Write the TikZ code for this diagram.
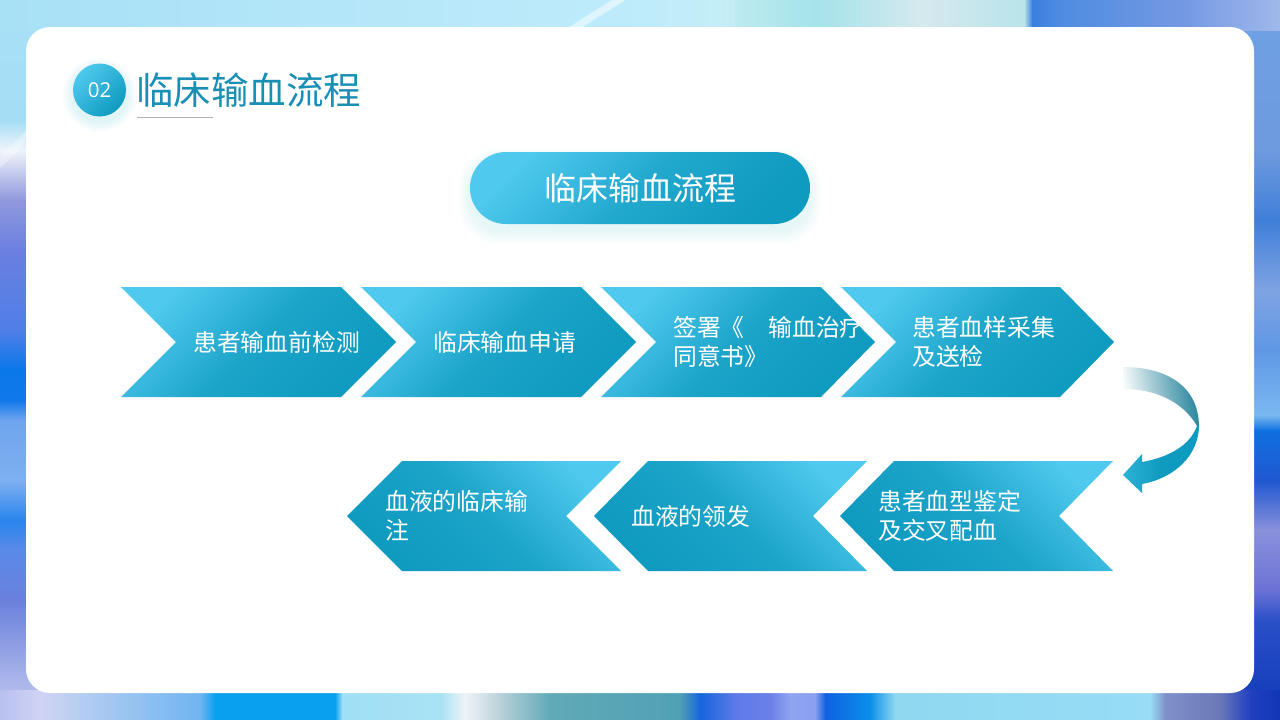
\documentclass[tikz,border=0pt]{standalone}
\usepackage{fontspec}
\setmainfont{Noto Sans CJK SC}
\newfontfamily\numfont{Open Sans}
\usepackage{tikz}

\definecolor{lightblue}{HTML}{4FC9EE}
\definecolor{darkblue}{HTML}{0F9ABF}
\definecolor{titleblue}{HTML}{1A8FB5}

\tikzset{
  arrowright/.style={top color=lightblue,bottom color=darkblue,middle color=darkblue!80!lightblue,shading angle=45},
  arrowleft/.style={top color=lightblue,bottom color=darkblue,middle color=darkblue!80!lightblue,shading angle=-45},
  arrowtext/.style={white,font=\fontsize{23.8pt}{29pt}\selectfont,align=left,anchor=west,inner sep=0pt},
}

\begin{document}
\begin{tikzpicture}[x=1pt,y=-1pt]
\useasboundingbox (0,0) rectangle (1280,720);
%Background strips
\foreach \ya/\yb/\ca/\cb in {0/120/A8E0F6/A5DDF5,120/150/A5DDF5/F0F4FA,150/200/F0F4FA/9098DD,200/250/9098DD/6A7FE0,250/330/6A7FE0/4F7FE8,330/370/4F7FE8/0A78EA,370/400/0A78EA/1078EA,400/420/1078EA/6FA5EE,420/480/6FA5EE/7DB0F0,480/520/7DB0F0/2A85EE,520/550/2A85EE/5A8AE8,550/600/5A8AE8/6A80DC,600/680/6A80DC/AAB5EA,680/720/AAB5EA/C0C5EF}{
  \definecolor{ca}{HTML}{\ca}\definecolor{cb}{HTML}{\cb}
  \shade [top color=ca,bottom color=cb] (0,\ya) rectangle (40,{\yb+.5});
}
\foreach \ya/\yb/\ca/\cb in {0/30/A9BEEA/6FA0E4,30/150/6FA0E4/6E9ADE,150/220/6E9ADE/3F7FD8,220/290/3F7FD8/7FA3E2,290/350/7FA3E2/5F97E5,350/415/5F97E5/7AB8F0,415/430/7AB8F0/0F70E0,430/480/0F70E0/2058D0,480/530/2058D0/8A90DC,530/590/8A90DC/6B72D5,590/620/6B72D5/2A50C8,620/720/2A50C8/0F38B8}{
  \definecolor{ca}{HTML}{\ca}\definecolor{cb}{HTML}{\cb}
  \shade [top color=ca,bottom color=cb] (1240,\ya) rectangle (1280,{\yb+.5});
}
\foreach \xa/\xb/\ca/\cb in {0/600/A8E0F6/BDEBFB,600/735/BDEBFB/C4EDF6,735/816/BCEAF0/A4E3EA,816/922/A4E3EA/D5E9EE,922/1024/D5E9EE/B8E4EA,1024/1032/B8E4EA/3A80E0,1032/1060/3A80E0/4F8CE0,1060/1180/4F8CE0/7398E2,1180/1280/7398E2/A0B8EC}{
  \definecolor{ca}{HTML}{\ca}\definecolor{cb}{HTML}{\cb}
  \shade [left color=ca,right color=cb] (\xa,0) rectangle ({\xb+.5},30);
}
\foreach \xa/\xb/\ca/\cb in {0/40/B8C0EE/D0D4F4,40/80/D0D4F4/B5CDF2,80/200/B5CDF2/6FB5F0,200/215/6FB5F0/0AA0F0,215/335/0AA0F0/0AA0F0,335/342/0AA0F0/A0DFF5,342/440/A0DFF5/A8E2F5,440/465/A8E2F5/EEF4F8,465/500/EEF4F8/B8D0D8,500/550/B8D0D8/60AAB8,550/680/60AAB8/50A0B5,680/700/50A0B5/1565DD,700/735/1565DD/5E7AE8,735/770/5E7AE8/6A80E8,770/790/6A80E8/90A5F0,790/815/90A5F0/8AA0F0,815/825/8AA0F0/1060E0,825/870/1060E0/0A90EA,870/895/0A90EA/8FD8F0,895/1150/8FD8F0/98DCF6,1150/1165/98DCF6/8090C8,1165/1220/8090C8/6A78B8,1220/1250/6A78B8/2040C0,1250/1280/2040C0/1035B5}{
  \definecolor{ca}{HTML}{\ca}\definecolor{cb}{HTML}{\cb}
  \shade [left color=ca,right color=cb] (\xa,690) rectangle ({\xb+.5},720);
}
\draw [white,opacity=.5,line width=7pt] (622,-2) -- (571,30);
\draw [white,opacity=.3,line width=8pt] (-2,165) -- (30,132);
%Card
\node at (640,360) [rectangle,rounded corners=24pt,fill=white,minimum width=1228pt,minimum height=666pt] (Card) {};

%Title
\foreach \k in {1,...,8}
  \fill [lightblue,opacity=.02] (99.5,95) circle ({26.5+\k*1.3});
\node at (99.5,90) [circle,inner sep=0pt,minimum size=53pt,top color=lightblue,bottom color=darkblue,shading angle=45] (Badge) {};
\node at (Badge) [white] (BadgeText) {\numfont\fontsize{20.5pt}{24pt}\selectfont 02};
\node at (136,90) [anchor=west,inner sep=0pt,titleblue,font=\fontsize{37.5pt}{44pt}\selectfont] (Title) {临床输血流程};
\coordinate (RuleStart) at (137,117.5);
\coordinate (RuleEnd) at (213,117.5);
\draw [black!30,line width=.8pt] (RuleStart) -- (RuleEnd);

%Heading pill
\foreach \k in {1,...,8}
  \fill [lightblue,opacity=.015,rounded corners=36pt] ({470-\k*1.4},{152+8-\k*1.4}) rectangle ({810+\k*1.4},{224+8+\k*1.4});
\node at (640,188) [rectangle,rounded corners=35.9pt,minimum width=340pt,minimum height=72pt,top color=lightblue,bottom color=darkblue,middle color=darkblue!70!lightblue,shading angle=45] (Pill) {};
\node at (Pill) [white,font=\fontsize{32pt}{38pt}\selectfont] (PillText) {临床输血流程};

%Top row
\shade [arrowright] (121,287) -- (341,287) -- (396,342) -- (341,397) -- (121,397) -- (176,342) -- cycle;
\node at (193,342) [arrowtext] (Step1) {患者输血前检测};
\shade [arrowright] (361,287) -- (581,287) -- (636,342) -- (581,397) -- (361,397) -- (416,342) -- cycle;
\node at (433,342) [arrowtext] (Step2) {临床输血申请};
\shade [arrowright] (601,287) -- (821,287) -- (875,342) -- (821,397) -- (601,397) -- (656,342) -- cycle;
\node at (673,342) [arrowtext] (Step3) {签署《　输血治疗\\同意书》};
\shade [arrowright] (841,287) -- (1060,287) -- (1114,342) -- (1060,397) -- (841,397) -- (896,342) -- cycle;
\node at (912,342) [arrowtext] (Step4) {患者血样采集\\及送检};

%Bottom row
\shade [arrowleft] (1113,461) -- (894,461) -- (840,516) -- (894,571) -- (1113,571) -- (1059,516) -- cycle;
\node at (878,516) [arrowtext] (Step5) {患者血型鉴定\\及交叉配血};
\shade [arrowleft] (867,461) -- (648,461) -- (594,516) -- (648,571) -- (867,571) -- (813,516) -- cycle;
\node at (631,516) [arrowtext] (Step6) {血液的领发};
\shade [arrowleft] (621,461) -- (402,461) -- (347,516) -- (402,571) -- (621,571) -- (566,516) -- cycle;
\node at (385,516) [arrowtext] (Step7) {血液的临床输\\注};

%Curved arrow
\shade [left color=white,right color=darkblue!75!black!90,shading angle=100] (1123,367) .. controls (1165,367) and (1199,385) .. (1199,427) .. controls (1197,426) and (1197,426) .. (1197,426) .. controls (1185,405) and (1160,389) .. (1123,389) -- cycle;
\shade [left color=lightblue!50!darkblue,right color=darkblue,middle color=darkblue] (1199,425) .. controls (1199,455) and (1175,478) .. (1142,484) -- (1142,493) -- (1123,475) -- (1142,454) -- (1142,462) .. controls (1170,457) and (1190,445) .. (1197,426) -- cycle;
\end{tikzpicture}
\end{document}
